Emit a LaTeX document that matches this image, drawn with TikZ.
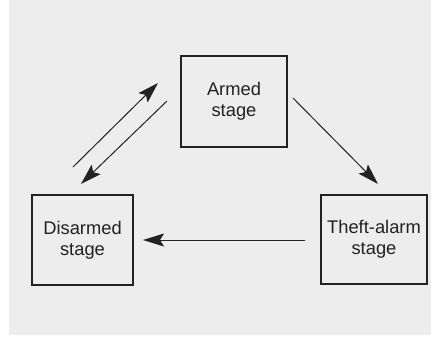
\documentclass[tikz,border=0pt]{standalone}
\usepackage{fontspec}
\setmainfont{Liberation Sans}
\usetikzlibrary{arrows.meta}
\definecolor{bg}{HTML}{EDEDED}
\definecolor{ink}{HTML}{222222}
\begin{document}
\begin{tikzpicture}[x=1bp,y=-1bp,
  stagebox/.style={draw=ink,line width=1.1bp,rectangle,align=center,inner sep=0pt,
    font=\fontsize{18.4}{21}\selectfont,text=ink},
  trans/.style={draw=ink,line width=1bp,-{Stealth[length=21bp,width=13bp,inset=4bp]}}]
\useasboundingbox (0,0) rectangle (431,339);
\fill[white] (0,0) rectangle (431,339);
\fill[bg] (9,0) rectangle (431,335);
\node[stagebox,minimum width=106bp,minimum height=91bp] (armed) at (234,101.5) {Armed\\stage};
\node[stagebox,minimum width=101bp,minimum height=90bp] (disarmed) at (82.5,240) {Disarmed\\stage};
\node[stagebox,minimum width=106bp,minimum height=89bp] (theft) at (374,239.5) {Theft-alarm\\stage};
\coordinate (upS) at (73,167);
\coordinate (upE) at (158,83);
\coordinate (dnS) at (167,101);
\coordinate (dnE) at (81,184);
\coordinate (rtS) at (293,98);
\coordinate (rtE) at (378,184);
\coordinate (hzS) at (305,240);
\coordinate (hzE) at (143,240);
\draw[trans] (upS) -- (upE);
\draw[trans] (dnS) -- (dnE);
\draw[trans] (rtS) -- (rtE);
\draw[trans] (hzS) -- (hzE);
\end{tikzpicture}
\end{document}
